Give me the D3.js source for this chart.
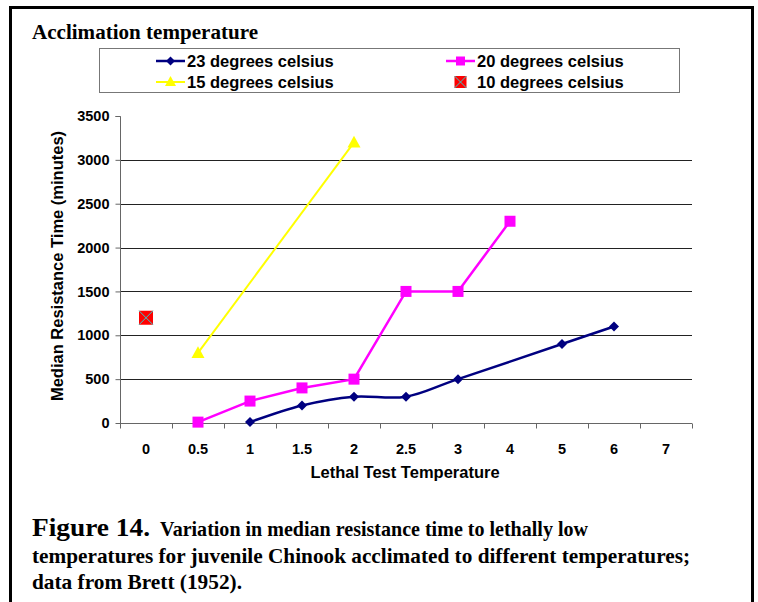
<!DOCTYPE html>
<html>
<head>
<meta charset="utf-8">
<script src="https://cdn.jsdelivr.net/npm/d3@7"></script>
<style>
  html, body { margin: 0; padding: 0; background: #fff; }
  svg { display: block; }
</style>
</head>
<body>
<svg id="chart" width="758" height="602"></svg>
<script>
// ---------------- DATA ----------------
const categories = ["0", "0.5", "1", "1.5", "2", "2.5", "3", "4", "5", "6", "7"];
const s23 = [null, null, 10, 200, 300, 300, 500, null, 900, 1100, null];
const s20 = [null, 10, 250, 400, 500, 1500, 1500, 2300, null, null, null];
const s15 = [null, 800, null, null, 3200, null, null, null, null, null, null];
const s10 = [1200, null, null, null, null, null, null, null, null, null, null];
const seriesNames = ["23 degrees celsius", "20 degrees celsius", "15 degrees celsius", "10 degrees celsius"];
const yTicks = [0, 500, 1000, 1500, 2000, 2500, 3000, 3500];
const gridValues = [500, 1000, 1500, 2000, 2500, 3000];

// ---------------- SETUP ----------------
const svg = d3.select("#chart");
const sans = "'Liberation Sans', Arial, sans-serif";
const serif = "'Liberation Serif', 'Times New Roman', serif";

const x = d3.scaleBand().domain(categories).range([120, 692]);
const y = d3.scaleLinear().domain([0, 3500]).range([423, 116]);
const cx = c => x(c) + x.bandwidth() / 2;

// outer frame (no bottom edge)
svg.append("path")
  .attr("d", "M10.5,603 V7.5 H752.5 V603")
  .attr("fill", "none").attr("stroke", "#000").attr("stroke-width", 3);

// title
svg.append("text").attr("x", 32).attr("y", 39)
  .attr("font-family", serif).attr("font-weight", "bold").attr("font-size", 20.5)
  .attr("textLength", 226).attr("lengthAdjust", "spacingAndGlyphs")
  .text("Acclimation temperature");

// gridlines
svg.append("g").selectAll("line").data(gridValues).join("line")
  .attr("x1", 120).attr("x2", 692)
  .attr("y1", d => Math.round(y(d)) + 0.5).attr("y2", d => Math.round(y(d)) + 0.5)
  .attr("stroke", "#222").attr("stroke-width", 1);

// y axis
const yAxis = d3.axisLeft(y).tickValues(yTicks).tickSize(5).tickPadding(6).tickFormat(d3.format("d"));
const gy = svg.append("g").attr("transform", "translate(120.5,0)").call(yAxis);
gy.select(".domain").attr("stroke", "#666").attr("d", "M-5,116.5H0V423.5");
gy.selectAll(".tick line").attr("stroke", "#666");
gy.selectAll("text").attr("font-family", sans).attr("font-weight", "bold").attr("font-size", 14.5).attr("fill", "#000");

// x axis: ticks at category boundaries
const gx = svg.append("g").attr("transform", "translate(0,423.5)");
gx.append("line").attr("x1", 120).attr("x2", 692).attr("stroke", "#666");
const bounds = categories.map(c => x(c)).concat([x.range()[1]]);
gx.selectAll("line.tk").data(bounds).join("line").attr("class", "tk")
  .attr("x1", d => Math.round(d) + 0.5).attr("x2", d => Math.round(d) + 0.5)
  .attr("y1", 0).attr("y2", 5).attr("stroke", "#666");
gx.selectAll("text").data(categories).join("text")
  .attr("x", d => cx(d)).attr("y", 30).attr("text-anchor", "middle")
  .attr("font-family", sans).attr("font-weight", "bold").attr("font-size", 14.5)
  .text(d => d);

// axis titles
svg.append("text").attr("x", 405).attr("y", 478).attr("text-anchor", "middle")
  .attr("font-family", sans).attr("font-weight", "bold").attr("font-size", 16.5)
  .text("Lethal Test Temperature");
svg.append("text").attr("transform", "translate(63,266) rotate(-90)").attr("text-anchor", "middle")
  .attr("font-family", sans).attr("font-weight", "bold").attr("font-size", 16.5)
  .text("Median Resistance Time (minutes)");

// ---------------- SERIES ----------------
function pts(arr) {
  return categories.map((c, i) => ({ c, v: arr[i] })).filter(d => d.v !== null);
}
const line = curve => d3.line().x(d => cx(d.c)).y(d => y(d.v)).curve(curve);

// 23 (navy, smoothed)
const p23 = pts(s23);
svg.append("path").datum(p23).attr("d", line(d3.curveCatmullRom.alpha(0)))
  .attr("fill", "none").attr("stroke", "#000080").attr("stroke-width", 2.5);
// 20 (magenta)
const p20 = pts(s20);
svg.append("path").datum(p20).attr("d", line(d3.curveLinear))
  .attr("fill", "none").attr("stroke", "#FF00FF").attr("stroke-width", 2.5);
// 15 (yellow)
const p15 = pts(s15);
svg.append("path").datum(p15).attr("d", line(d3.curveLinear))
  .attr("fill", "none").attr("stroke", "#FFFF00").attr("stroke-width", 2);

const diamond = (px, py, r) => `M${px},${py - r}L${px + r},${py}L${px},${py + r}L${px - r},${py}Z`;
const tri = (px, py, r) => `M${px},${py - r}L${px + r},${py + r * 0.8}L${px - r},${py + r * 0.8}Z`;

svg.append("g").selectAll("path").data(p23).join("path")
  .attr("d", d => diamond(cx(d.c), y(d.v), 5)).attr("fill", "#000080");
svg.append("g").selectAll("rect").data(p20).join("rect")
  .attr("x", d => cx(d.c) - 5.5).attr("y", d => y(d.v) - 5.5).attr("width", 11).attr("height", 11)
  .attr("fill", "#FF00FF");
svg.append("g").selectAll("path").data(p15).join("path")
  .attr("d", d => tri(cx(d.c), y(d.v), 6.5)).attr("fill", "#FFFF00");

function xMarker(g, px, py, r) {
  g.append("rect").attr("x", px - r).attr("y", py - r).attr("width", 2 * r).attr("height", 2 * r)
    .attr("fill", "#FF0000");
  g.append("path").attr("d", `M${px - r},${py - r}L${px + r},${py + r}M${px + r},${py - r}L${px - r},${py + r}`)
    .attr("stroke", "#33CCCC").attr("stroke-width", 1);
}
pts(s10).forEach(d => xMarker(svg.append("g"), cx(d.c), y(d.v), 7));

// ---------------- LEGEND ----------------
const lg = svg.append("g");
lg.append("rect").attr("x", 99.5).attr("y", 48.5).attr("width", 580).attr("height", 44)
  .attr("fill", "#fff").attr("stroke", "#777").attr("stroke-width", 1);
const legendItems = [
  { name: seriesNames[0], col: 0, row: 0 },
  { name: seriesNames[1], col: 1, row: 0 },
  { name: seriesNames[2], col: 0, row: 1 },
  { name: seriesNames[3], col: 1, row: 1 }
];
const colX = [156, 446];
const rowY = [61, 82];
legendItems.forEach((it, i) => {
  const lx = colX[it.col], ly = rowY[it.row];
  const g = lg.append("g");
  if (i === 0) {
    g.append("line").attr("x1", lx).attr("x2", lx + 29).attr("y1", ly).attr("y2", ly).attr("stroke", "#000080").attr("stroke-width", 2.5);
    g.append("path").attr("d", diamond(lx + 14.5, ly, 4.5)).attr("fill", "#000080");
  } else if (i === 1) {
    g.append("line").attr("x1", lx).attr("x2", lx + 29).attr("y1", ly).attr("y2", ly).attr("stroke", "#FF00FF").attr("stroke-width", 2.5);
    g.append("rect").attr("x", lx + 10).attr("y", ly - 4.5).attr("width", 9).attr("height", 9).attr("fill", "#FF00FF");
  } else if (i === 2) {
    g.append("line").attr("x1", lx).attr("x2", lx + 29).attr("y1", ly).attr("y2", ly).attr("stroke", "#FFFF00").attr("stroke-width", 2);
    g.append("path").attr("d", tri(lx + 14.5, ly - 0.5, 5.5)).attr("fill", "#FFFF00");
  } else {
    xMarker(g, lx + 14.5, ly, 6);
  }
  g.append("text").attr("x", lx + 31).attr("y", ly + 6)
    .attr("font-family", sans).attr("font-weight", "bold").attr("font-size", 16.5)
    .text(it.name);
});

// ---------------- CAPTION ----------------
svg.append("text").attr("x", 32).attr("y", 536).attr("font-family", serif).attr("font-weight", "bold")
  .attr("font-size", 26).attr("textLength", 118).attr("lengthAdjust", "spacingAndGlyphs")
  .text("Figure 14.");
svg.append("text").attr("x", 160).attr("y", 536).attr("font-family", serif).attr("font-weight", "bold").attr("font-size", 21)
  .attr("textLength", 428).attr("lengthAdjust", "spacingAndGlyphs")
  .text("Variation in median resistance time to lethally low");
svg.append("text").attr("x", 32).attr("y", 563).attr("font-family", serif).attr("font-weight", "bold").attr("font-size", 21)
  .attr("textLength", 658).attr("lengthAdjust", "spacingAndGlyphs")
  .text("temperatures for juvenile Chinook acclimated to different temperatures;");
svg.append("text").attr("x", 32).attr("y", 589).attr("font-family", serif).attr("font-weight", "bold").attr("font-size", 21)
  .attr("textLength", 210).attr("lengthAdjust", "spacingAndGlyphs")
  .text("data from Brett (1952).");
</script>
</body>
</html>
